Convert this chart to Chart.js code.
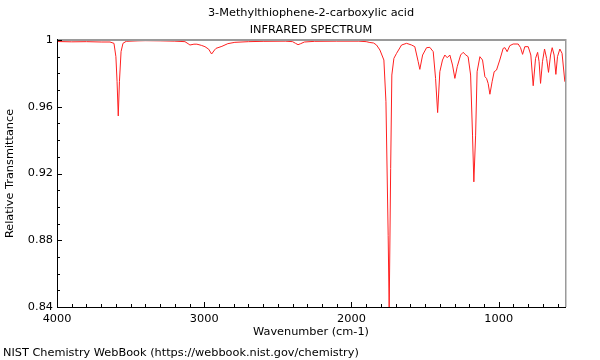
<!DOCTYPE html>
<html><head><meta charset="utf-8">
<script src="https://cdn.jsdelivr.net/npm/chart.js@4"></script>
<style>html,body{margin:0;padding:0;background:#fff;}</style>
</head><body>
<canvas id="c" width="600" height="360"></canvas>
<script>
const titleLines = ['3-Methylthiophene-2-carboxylic acid', 'INFRARED SPECTRUM'];
const xTitle = 'Wavenumber (cm-1)';
const yTitle = 'Relative Transmittance';
const footer = 'NIST Chemistry WebBook (https://webbook.nist.gov/chemistry)';

const wavenumbers = [4000, 3900, 3800, 3700, 3640, 3613, 3600, 3592, 3584, 3576, 3565, 3552, 3530, 3450, 3400, 3300, 3200, 3131, 3110, 3097, 3070, 3050, 3020, 2995, 2970, 2950, 2930, 2920, 2880, 2840, 2792, 2700, 2600, 2450, 2400, 2380, 2363, 2345, 2320, 2250, 2100, 1950, 1900, 1875, 1850, 1830, 1807, 1780, 1766, 1751, 1744, 1734, 1726, 1712, 1694, 1660, 1626, 1592, 1570, 1547, 1536, 1517, 1490, 1468, 1445, 1429, 1415, 1400, 1382, 1366, 1350, 1332, 1314, 1298, 1282, 1259, 1242, 1223, 1208, 1191, 1178, 1169, 1157, 1147, 1128, 1110, 1094, 1083, 1072, 1060, 1045, 1031, 1015, 993, 970, 958, 943, 925, 902, 868, 852, 838, 823, 800, 782, 766, 750, 736, 726, 716, 703, 689, 675, 662, 648, 637, 624, 612, 601, 585, 570, 551];
const transmittance = [0.9991, 0.9989, 0.9990, 0.9988, 0.9988, 0.9980, 0.9900, 0.9750, 0.9545, 0.9750, 0.9930, 0.9980, 0.9992, 0.9995, 0.9996, 0.9995, 0.9993, 0.9990, 0.9978, 0.9970, 0.9975, 0.9975, 0.9968, 0.9960, 0.9945, 0.9916, 0.9940, 0.9950, 0.9962, 0.9978, 0.9986, 0.9990, 0.9992, 0.9993, 0.9990, 0.9980, 0.9972, 0.9978, 0.9988, 0.9992, 0.9993, 0.9993, 0.9990, 0.9985, 0.9982, 0.9970, 0.9940, 0.9880, 0.9630, 0.8830, 0.8380, 0.9230, 0.9790, 0.9890, 0.9920, 0.9970, 0.9980, 0.9970, 0.9960, 0.9870, 0.9824, 0.9910, 0.9954, 0.9956, 0.9930, 0.9770, 0.9565, 0.9810, 0.9880, 0.9910, 0.9894, 0.9910, 0.9850, 0.9770, 0.9840, 0.9910, 0.9926, 0.9910, 0.9900, 0.9790, 0.9430, 0.9150, 0.9430, 0.9810, 0.9900, 0.9880, 0.9780, 0.9770, 0.9740, 0.9675, 0.9750, 0.9810, 0.9820, 0.9880, 0.9950, 0.9954, 0.9930, 0.9966, 0.9976, 0.9976, 0.9954, 0.9914, 0.9960, 0.9960, 0.9910, 0.9726, 0.9890, 0.9926, 0.9870, 0.9740, 0.9870, 0.9946, 0.9890, 0.9806, 0.9910, 0.9954, 0.9910, 0.9794, 0.9900, 0.9946, 0.9920, 0.9750];

const xMajorTicks = [4000, 3000, 2000, 1000];
const yMajorTicks = [0.84, 0.88, 0.92, 0.96, 1];
const xRange = [550, 4000];
const yRange = [0.84, 1];
const xMinorStep = 100;
const yMinorStep = 0.01;

const FONT = 'DejaVu Sans';
const FSIZE = 11.3;
Chart.defaults.font.family = FONT;
Chart.defaults.font.size = FSIZE;
Chart.defaults.color = '#000';

const points = wavenumbers.map((w, i) => ({x: w, y: transmittance[i]}));

const framePlugin = {
  id: 'frame',
  afterDatasetsDraw(chart) {
    const {ctx, chartArea: a, scales: {x, y}} = chart;
    ctx.save();
    ctx.fillStyle = '#9a9a9a';
    ctx.fillRect(a.left, a.top - 1, a.right - a.left + 1, 2);
    ctx.fillRect(a.right, a.top - 1, 1.5, a.bottom - a.top + 1);
    ctx.strokeStyle = '#000';
    ctx.lineWidth = 1;
    ctx.beginPath();
    ctx.moveTo(a.left + 0.5, a.top - 1);
    ctx.lineTo(a.left + 0.5, a.bottom + 0.5);
    ctx.lineTo(a.right + 1, a.bottom + 0.5);
    const nx = Math.round((xRange[1] - xRange[0]) / xMinorStep);
    for (let k = 0; k <= nx; k++) {
      const v = xRange[1] - k * xMinorStep;
      if (v < xRange[0]) break;
      const px = Math.round(x.getPixelForValue(v)) + 0.5;
      const len = xMajorTicks.includes(v) ? 5 : 3;
      ctx.moveTo(px, a.bottom);
      ctx.lineTo(px, a.bottom - len);
    }
    const ny = Math.round((yRange[1] - yRange[0]) / yMinorStep);
    for (let k = 0; k <= ny; k++) {
      const v = yRange[0] + k * yMinorStep;
      const py = Math.round(y.getPixelForValue(v)) + 0.5;
      const len = (k % 4 === 0) ? 5 : 3;
      ctx.moveTo(a.left, py);
      ctx.lineTo(a.left + len, py);
    }
    ctx.stroke();
    ctx.restore();
  },
  afterDraw(chart) {
    const {ctx, chartArea: a} = chart;
    ctx.save();
    ctx.fillStyle = '#000';
    ctx.font = FSIZE + 'px ' + FONT;
    ctx.textAlign = 'center';
    ctx.textBaseline = 'middle';
    const cx = (a.left + a.right) / 2;
    ctx.fillText(titleLines[0], cx, 13);
    ctx.fillText(titleLines[1], cx, 30);
    ctx.fillText(xTitle, cx, 332);
    ctx.textAlign = 'left';
    ctx.fillText(footer, 3, 353);
    ctx.translate(10, (a.top + a.bottom) / 2);
    ctx.rotate(-Math.PI / 2);
    ctx.textAlign = 'center';
    ctx.fillText(yTitle, 0, 0);
    ctx.restore();
  }
};

new Chart(document.getElementById('c'), {
  type: 'scatter',
  data: {
    datasets: [{
      data: points,
      showLine: true,
      borderColor: '#ff2020',
      borderWidth: 1,
      pointRadius: 0,
      tension: 0,
      fill: false
    }]
  },
  options: {
    responsive: false,
    devicePixelRatio: 1,
    animation: false,
    layout: {padding: {top: 40, right: 35, left: 0, bottom: 0}},
    plugins: {legend: {display: false}, tooltip: {enabled: false}, title: {display: false}},
    scales: {
      x: {
        type: 'linear',
        reverse: true,
        min: xRange[0],
        max: xRange[1],
        grid: {display: false, drawTicks: false},
        border: {display: false},
        ticks: {padding: 5, maxRotation: 0, callback: v => String(v)},
        afterBuildTicks: s => { s.ticks = xMajorTicks.map(v => ({value: v})); },
        afterFit: s => { s.height = 53; }
      },
      y: {
        type: 'linear',
        min: yRange[0],
        max: yRange[1],
        grid: {display: false, drawTicks: false},
        border: {display: false},
        ticks: {padding: 4, callback: v => (v === 1 ? '1' : v.toFixed(2))},
        afterBuildTicks: s => { s.ticks = yMajorTicks.map(v => ({value: v})); },
        afterFit: s => { s.width = 57; }
      }
    }
  },
  plugins: [framePlugin]
});
</script>
</body></html>
